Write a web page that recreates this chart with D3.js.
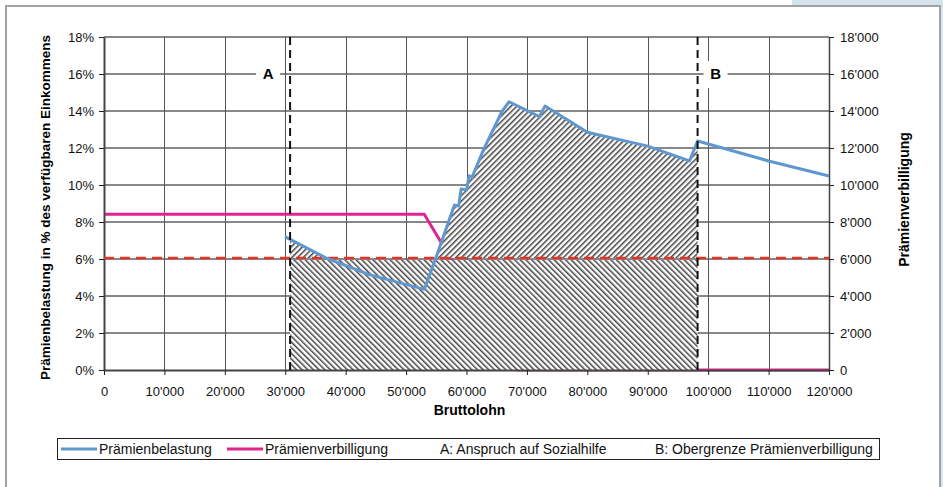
<!DOCTYPE html>
<html>
<head>
<meta charset="utf-8">
<script src="https://cdn.jsdelivr.net/npm/d3@7"></script>
<style>
  body { margin: 0; background: #fff; }
  svg text { font-family: "Liberation Sans", Arial, sans-serif; }
</style>
</head>
<body>
<div id="chart-area"></div>
<script>
// Data
const beitragX = [30000, 36860, 44040, 53030, 54920, 58000, 58700, 59100, 60000, 60430, 60900, 62800,
                  65840, 67050, 72070, 73010, 80000, 90000, 96900, 98250, 110000, 120000];
const beitragY = [7.2, 6.04, 5.14, 4.36, 6.05, 8.92, 8.86, 9.78, 9.73, 10.5, 10.4, 11.9,
                  13.96, 14.5, 13.7, 14.27, 12.85, 12.1, 11.3, 12.38, 11.3, 10.49];
const verbilligungX = [0, 53000, 68500, 98250, 120000];
const verbilligungY = [8420, 8420, 0, 0, 0];
const grenze = 6.05;           // red dashed line, %
const markA = 30800, markB = 98250;
const xTicks = [0, 10000, 20000, 30000, 40000, 50000, 60000, 70000, 80000, 90000, 100000, 110000, 120000];
const yTicks = [0, 2, 4, 6, 8, 10, 12, 14, 16, 18];
const yTicksRight = [0, 2000, 4000, 6000, 8000, 10000, 12000, 14000, 16000, 18000];
const legendLabels = ["Prämienbelastung", "Prämienverbilligung", "A: Anspruch auf Sozialhilfe", "B: Obergrenze Prämienverbilligung"];

const full_width = 943, full_height = 487;
const margin = { left: 104, right: 114, top: 37, bottom: 117 };
const width = full_width - margin.left - margin.right, height = full_height - margin.top - margin.bottom;

const loc = d3.formatLocale({ decimal: ".", thousands: "'", grouping: [3], currency: ["", ""] });
const fmt = loc.format(",");

const svg = d3.select("#chart-area").append("svg").attr("width", full_width).attr("height", full_height);

// page frame
svg.append("rect").attr("x", 0).attr("y", 0).attr("width", full_width).attr("height", full_height).attr("fill", "#fff");
svg.append("rect").attr("x", 792).attr("y", 0).attr("width", 151).attr("height", 5).attr("fill", "#d3e4ec");
svg.append("rect").attr("x", 941).attr("y", 0).attr("width", 2).attr("height", full_height).attr("fill", "#d3e4ec");
svg.append("path").attr("d", "M6,487V6H940V487").attr("fill", "none").attr("stroke", "#a3a3a3").attr("stroke-width", 2);

// hatch patterns
const defs = svg.append("defs");
function hatch(id, angle) {
    const p = defs.append("pattern").attr("id", id).attr("patternUnits", "userSpaceOnUse")
        .attr("width", 4).attr("height", 4).attr("patternTransform", "rotate(" + angle + ")");
    p.append("rect").attr("width", 4).attr("height", 4).attr("fill", "#fff");
    p.append("rect").attr("width", 1.5).attr("height", 4).attr("fill", "#444");
}
hatch("hatchDown", -45);
hatch("hatchUp", 45);

const g = svg.append("g").attr("transform", "translate(" + margin.left + ", " + margin.top + ")");

const x = d3.scaleLinear().domain([0, 120000]).range([0, width]);
const y = d3.scaleLinear().domain([0, 18]).range([height, 0]);
const y2 = d3.scaleLinear().domain([0, 18000]).range([height, 0]);

// grid
g.selectAll(".hgrid").data(yTicks.slice(1)).enter().append("line")
    .attr("x1", 0).attr("x2", width)
    .attr("y1", d => y(d)).attr("y2", d => y(d))
    .attr("stroke", "#111").attr("stroke-width", 1);
g.selectAll(".vgrid").data(xTicks.slice(1, -1)).enter().append("line")
    .attr("x1", d => Math.round(x(d)) + 0.5).attr("x2", d => Math.round(x(d)) + 0.5)
    .attr("y1", 0).attr("y2", height)
    .attr("stroke", "#555").attr("stroke-width", 1);

// Prämienverbilligung (drawn under the hatched areas)
const pinkLine = d3.line().x(d => x(d[0])).y(d => y2(d[1]));
g.append("path")
    .datum(d3.zip(verbilligungX, verbilligungY))
    .attr("d", pinkLine)
    .attr("fill", "none").attr("stroke", "#e0268c").attr("stroke-width", 3);

// hatched areas between A and B
g.append("clipPath").attr("id", "clipAB").append("rect")
    .attr("x", x(markA)).attr("y", 0).attr("width", x(markB) - x(markA)).attr("height", height);

g.append("path")
    .datum([markA, markB])
    .attr("d", d3.area().x(d => x(d)).y0(y(0)).y1(y(5.95)))
    .attr("fill", "url(#hatchDown)");

g.append("path")
    .datum(d3.zip(beitragX, beitragY))
    .attr("clip-path", "url(#clipAB)")
    .attr("d", d3.area().x(d => x(d[0])).y0(y(grenze)).y1(d => y(Math.max(d[1], grenze))))
    .attr("fill", "url(#hatchUp)");

// axes
const xAxisCall = d3.axisBottom(x).tickValues(xTicks).tickFormat(d => fmt(d)).tickSize(5).tickSizeOuter(0);
const yAxisCall = d3.axisLeft(y).tickValues(yTicks).tickFormat(d => d + "%").tickSize(5).tickSizeOuter(0);
const y2AxisCall = d3.axisRight(y2).tickValues(yTicksRight).tickFormat(d => fmt(d)).tickSize(5).tickSizeOuter(0);

const xa = g.append("g").attr("class", "x-axis").attr("transform", "translate(0, " + height + ")").call(xAxisCall);
const ya = g.append("g").attr("class", "y-axis").call(yAxisCall);
const ya2 = g.append("g").attr("class", "y-axis-right").attr("transform", "translate(" + width + ", 0)").call(y2AxisCall);

[xa, ya, ya2].forEach(a => {
    a.selectAll("text").attr("font-size", "13px").attr("fill", "#111")
        .style("font-family", "'Liberation Sans', Arial, sans-serif");
    a.selectAll("line").attr("stroke", "#222");
});
xa.selectAll("text").attr("dy", "1.35em");
ya.selectAll("text").attr("x", -10);
ya2.selectAll("text").attr("x", 11);
xa.select(".domain").attr("stroke", "#444").attr("stroke-width", 2);
ya.select(".domain").attr("stroke", "#444").attr("stroke-width", 2);
ya2.select(".domain").attr("stroke", "#444").attr("stroke-width", 1.5);

// red dashed limit
g.append("line")
    .attr("x1", 0).attr("x2", width).attr("y1", y(grenze)).attr("y2", y(grenze))
    .attr("stroke", "#e2342a").attr("stroke-width", 2.5).attr("stroke-dasharray", "10,6");

// Prämienbelastung
const blueLine = d3.line().x(d => x(d[0])).y(d => y(d[1]));
g.append("path")
    .datum(d3.zip(beitragX, beitragY))
    .attr("d", blueLine)
    .attr("fill", "none").attr("stroke", "#5f97cf").attr("stroke-width", 3).attr("stroke-linejoin", "round");

// A / B markers
[[markA, "A", -22], [markB, "B", 18]].forEach(m => {
    g.append("line")
        .attr("x1", x(m[0])).attr("x2", x(m[0])).attr("y1", 0).attr("y2", height)
        .attr("stroke", "#111").attr("stroke-width", 2).attr("stroke-dasharray", "8,5");
    g.append("rect")
        .attr("x", x(m[0]) + m[2] - 12).attr("y", y(16) - 13).attr("width", 24).attr("height", 27)
        .attr("fill", "#fff");
    g.append("text")
        .attr("x", x(m[0]) + m[2]).attr("y", y(16) + 5)
        .attr("text-anchor", "middle").attr("font-size", "15px").attr("font-weight", "bold")
        .text(m[1]);
});

// axis titles
g.append("text")
    .attr("x", width / 2 + 3).attr("y", height + 45)
    .attr("text-anchor", "middle").attr("font-size", "14px").attr("font-weight", "bold")
    .text("Bruttolohn");

g.append("text")
    .attr("x", -(height / 2) - 4).attr("y", -54)
    .attr("text-anchor", "middle").attr("font-size", "13.5px").attr("font-weight", "bold")
    .attr("transform", "rotate(-90)")
    .text("Prämienbelastung in % des verfügbaren Einkommens");

g.append("text")
    .attr("x", -(height / 2) + 4).attr("y", width + 80)
    .attr("text-anchor", "middle").attr("font-size", "14px").attr("font-weight", "bold")
    .attr("transform", "rotate(-90)")
    .text("Prämienverbilligung");

// legend
const legend = svg.append("g").attr("transform", "translate(57, 438)");
legend.append("rect").attr("x", 0.5).attr("y", 0.5).attr("width", 822).attr("height", 21)
    .attr("fill", "#fff").attr("stroke", "#222").attr("stroke-width", 1);
const legendX = [42, 208, 383, 598];
const legendColor = ["#5f97cf", "#e0268c", null, null];
legendLabels.forEach((lbl, i) => {
    if (legendColor[i]) {
        legend.append("line").attr("x1", legendX[i] - 38).attr("x2", legendX[i] - 2)
            .attr("y1", 11).attr("y2", 11).attr("stroke", legendColor[i]).attr("stroke-width", 3);
    }
    legend.append("text").attr("x", legendX[i]).attr("y", 16)
        .attr("font-size", "14px").attr("fill", "#111").text(lbl);
});
</script>
</body>
</html>
